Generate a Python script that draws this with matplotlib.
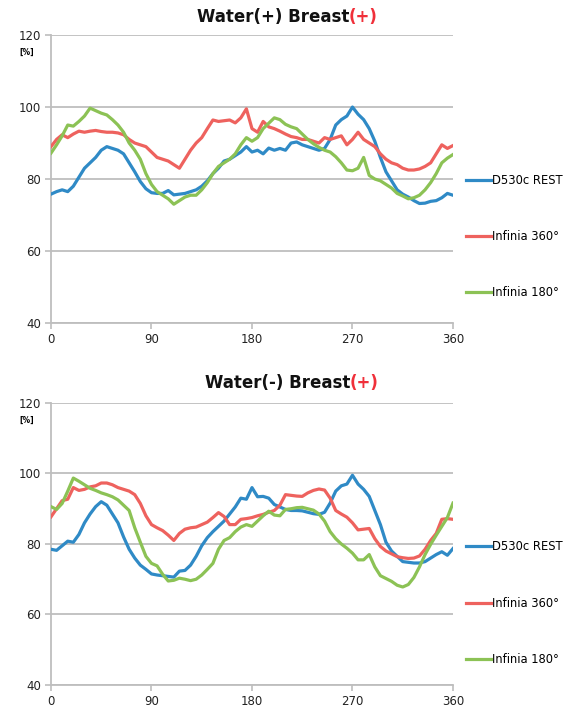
import numpy as np
import matplotlib
matplotlib.use("Agg")
import matplotlib.pyplot as plt

plt.rcParams["font.family"] = ["DejaVu Sans"]

# ---------------------------------------------------------------- colours
C_BLUE = "#2F8AC6"
C_RED = "#EE625E"
C_GREEN = "#8CC255"
C_GRID = "#BEBEBE"
C_TITLE_RED = "#F0303A"

# ---------------------------------------------------------------- data (angle in degrees, value in %)
angles = np.arange(0, 361, 5)
labels = ["D530c REST", "Infinia 360°", "Infinia 180°"]
xticks = [0, 90, 180, 270, 360]
yticks = [40, 60, 80, 100, 120]

# Water(+) Breast(+)
top_d530c = [75.8, 76.5, 77, 76.5, 78, 80.5, 83, 84.5, 86, 88, 89, 88.5,
             88, 87, 84.5, 82, 79.3, 77.3, 76.2, 76, 76, 76.8, 75.6, 75.8,
             76, 76.5, 77, 78, 79.5, 81.5, 83, 85, 85.5, 86.5, 87.5, 89,
             87.5, 88, 87, 88.6, 88, 88.5, 88, 90, 90.3, 89.5, 89, 88.5,
             88, 88.5, 91, 95, 96.5, 97.5, 100, 98, 96.5, 94, 90.5, 86,
             82, 79.5, 77, 75.8, 75, 74, 73.2, 73.3, 73.8, 74, 74.8, 76, 75.5]
top_inf360 = [89, 91, 92.3, 91.5, 92.5, 93.3, 93, 93.3, 93.5, 93.2, 93, 93,
              92.8, 92.3, 91, 90, 89.5, 89, 87.5, 86, 85.5, 85, 84, 83,
              85.5, 88, 90, 91.5, 94, 96.4, 96, 96.2, 96.4, 95.6, 97, 99.5,
              94, 93, 96, 94.5, 94, 93.3, 92.5, 91.8, 91.5, 91, 91, 90.5,
              90, 91.5, 91, 91.5, 92, 89.5, 91, 93, 91, 90, 89, 87,
              85.5, 84.5, 84, 83, 82.5, 82.5, 82.8, 83.5, 84.5, 87, 89.5, 88.5, 89.3]
top_inf180 = [87.2, 89.5, 92, 95, 94.7, 96, 97.5, 99.7, 99, 98.3, 97.8, 96.5,
              95, 93, 90, 88, 85.5, 81.5, 78.5, 76.5, 75.5, 74.5, 73, 74,
              75, 75.5, 75.5, 77, 79, 81.5, 83.5, 84.5, 85.5, 87, 89.5, 91.5,
              90.5, 91.5, 94, 95.5, 97, 96.5, 95.2, 94.5, 94, 92.5, 91, 89.8,
              88.8, 88, 87.5, 86.2, 84.5, 82.5, 82.3, 83, 86, 81, 80, 79.5,
              78.5, 77.5, 76, 75.3, 74.5, 74.8, 75.5, 77, 79, 81.5, 84.5, 85.8, 86.8]

# Water(-) Breast(+)
bot_d530c = [78.5, 78.2, 79.5, 80.8, 80.5, 82.7, 86, 88.5, 90.6, 92, 91, 88.5,
             86, 82, 78.5, 76, 74, 72.8, 71.5, 71.2, 71, 70.8, 70.6, 72.3,
             72.5, 74, 76.5, 79.5, 81.8, 83.5, 85, 86.5, 88.5, 90.5, 93, 92.7,
             96, 93.4, 93.5, 93, 91.2, 90.5, 89.8, 89.5, 89.5, 89.4, 89, 88.6,
             88.4, 89, 91.6, 95, 96.5, 97, 99.5, 97, 95.5, 93.5, 89.5, 85.5,
             80.5, 78, 76.5, 75, 74.8, 74.6, 74.6, 75, 76, 77, 77.8, 76.8, 78.7]
bot_inf360 = [87.7, 90, 92.3, 92.7, 96, 95.2, 95.5, 96.2, 96.5, 97.3, 97.3, 96.8,
              96, 95.5, 95, 94, 91.5, 88, 85.5, 84.6, 83.8, 82.5, 81, 83,
              84.2, 84.6, 84.8, 85.5, 86.2, 87.5, 88.9, 87.8, 85.5, 85.5, 87, 87.2,
              87.5, 88, 88.4, 89, 89.5, 91, 94, 93.8, 93.6, 93.5, 94.5, 95.2,
              95.6, 95.3, 93, 89.5, 88.5, 87.6, 86, 84, 84.2, 84.4, 81.5, 79.3,
              78, 77.2, 76.4, 76.1, 75.9, 76, 76.6, 78.5, 81, 83, 87, 87.2, 87]
bot_inf180 = [90.6, 89.8, 91.5, 95, 98.7, 97.8, 96.8, 95.8, 95.2, 94.5, 94, 93.4,
              92.5, 91, 89.5, 84.6, 80.5, 76.5, 74.5, 73.8, 71.4, 69.5, 69.7, 70.3,
              70, 69.6, 70, 71.2, 72.8, 74.5, 78.5, 81, 81.8, 83.5, 84.8, 85.5,
              85, 86.5, 88, 89.3, 88.2, 88, 89.8, 90, 90.3, 90.4, 90, 89.6,
              88.5, 86.5, 83.5, 81.5, 80, 78.8, 77.4, 75.5, 75.5, 77, 73.5, 71,
              70.2, 69.4, 68.3, 67.8, 68.5, 70.5, 73.5, 77, 79.9, 82.5, 85, 87.5, 91.6]

colors = [C_BLUE, C_RED, C_GREEN]

# ---------------------------------------------------------------- figure
fig = plt.figure(figsize=(5.71, 7.11), dpi=100)
ax_top = fig.add_axes([0.0893, 0.5457, 0.704, 0.405])
ax_bot = fig.add_axes([0.0893, 0.0366, 0.704, 0.3966])


def draw_panel(ax, series, legend_y):
    for vals, col, lab in zip(series, colors, labels):
        ax.plot(angles, vals, color=col, lw=2.3, label=lab, zorder=3)
    ax.set_xlim(0, 360)
    ax.set_ylim(40, 120)
    ax.set_xticks(xticks)
    ax.set_yticks(yticks)
    ax.grid(axis="y", color=C_GRID, lw=1.3)
    ax.set_axisbelow(True)
    for side in ("top", "right"):
        ax.spines[side].set_visible(False)
    for side in ("left", "bottom"):
        ax.spines[side].set_color(C_GRID)
        ax.spines[side].set_linewidth(1.3)
    ax.tick_params(direction="out", length=4, width=1.2, color=C_GRID,
                   labelsize=8.5, labelcolor="#222222", pad=3)
    ax.text(-0.06, 115.2, "[%]", transform=ax.get_yaxis_transform(),
            ha="center", va="center", fontsize=5.5, fontweight="bold")
    ax.legend(loc="center left", bbox_to_anchor=(1.032, legend_y), frameon=False,
              fontsize=8.3, handlelength=2.2, handletextpad=0.05,
              labelspacing=3.75, borderpad=0, borderaxespad=0)


draw_panel(ax_top, [top_d530c, top_inf360, top_inf180], 0.30)
draw_panel(ax_bot, [bot_d530c, bot_inf360, bot_inf180], 0.29)


def two_colour_title(black, red, xc, y):
    t1 = fig.text(0, y, black, fontsize=12, fontweight="bold",
                  ha="left", va="center", color="#111111")
    t2 = fig.text(0, y, red, fontsize=12, fontweight="bold",
                  ha="left", va="center", color=C_TITLE_RED)
    fig.canvas.draw()
    r = fig.canvas.get_renderer()
    w1 = t1.get_window_extent(r).width / fig.bbox.width
    w2 = t2.get_window_extent(r).width / fig.bbox.width
    x0 = xc - (w1 + w2) / 2
    t1.set_x(x0)
    t2.set_x(x0 + w1)


two_colour_title("Water(+) Breast", "(+)", 0.503, 0.976)
two_colour_title("Water(-) Breast", "(+)", 0.511, 0.461)

fig.savefig("out.png", dpi=100)
